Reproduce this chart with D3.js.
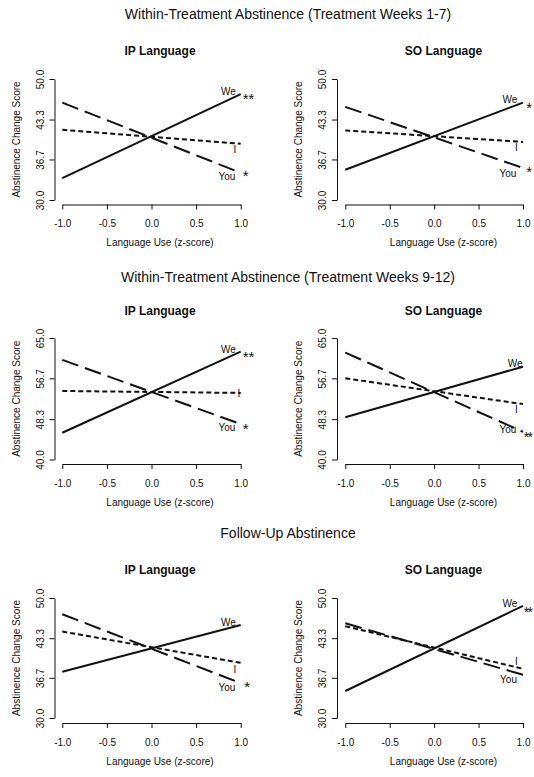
<!DOCTYPE html>
<html>
<head>
<meta charset="utf-8">
<script src="https://cdn.jsdelivr.net/npm/d3@7"></script>
<style>
  html, body { margin: 0; padding: 0; background: #fff; }
  svg { display: block; }
  text { font-family: "Liberation Sans", Arial, sans-serif; fill: #111; }
</style>
</head>
<body>
<script>
// ---------------- DATA ----------------
const xTickValues = [-1, -0.5, 0, 0.5, 1];
const xTickLabels = ["-1.0", "-0.5", "0.0", "0.5", "1.0"];
const yTickValuesA = [30, 36.7, 43.3, 50];
const yTickLabelsA = ["30.0", "36.7", "43.3", "50.0"];
const yTickValuesB = [40, 48.3, 56.7, 65];
const yTickLabelsB = ["40.0", "48.3", "56.7", "65.0"];

const sectionTitles = [
  "Within-Treatment Abstinence (Treatment Weeks 1-7)",
  "Within-Treatment Abstinence (Treatment Weeks 9-12)",
  "Follow-Up Abstinence"
];
const panelTitles = ["IP Language", "SO Language"];
const seriesNames = ["We", "You", "I"];
const xEnds = [-1, 1];
const xAxisTitle = "Language Use (z-score)";
const yAxisTitle = "Abstinence Change Score";

// predicted scores at z = -1 and z = +1
const wk17_IP_We = [33.6, 47.5];
const wk17_IP_You = [46.1, 34.5];
const wk17_IP_I = [41.6, 39.3];
const wk17_SO_We = [35.0, 46.1];
const wk17_SO_You = [45.4, 35.3];
const wk17_SO_I = [41.5, 39.6];

const wk912_IP_We = [45.5, 62.2];
const wk912_IP_You = [60.5, 47.3];
const wk912_IP_I = [54.1, 53.7];
const wk912_SO_We = [48.7, 59.1];
const wk912_SO_You = [62.0, 45.7];
const wk912_SO_I = [56.7, 51.4];

const fu_IP_We = [37.7, 45.5];
const fu_IP_You = [47.3, 35.8];
const fu_IP_I = [44.4, 39.2];
const fu_SO_We = [34.5, 48.7];
const fu_SO_You = [45.8, 37.2];
const fu_SO_I = [45.3, 38.2];

// significance markers (We, You, I)
const wk17_IP_sig = ["**", "*", ""];
const wk17_SO_sig = ["*", "*", ""];
const wk912_IP_sig = ["**", "*", ""];
const wk912_SO_sig = ["", "**", ""];
const fu_IP_sig = ["", "*", ""];
const fu_SO_sig = ["**", "", ""];

// ---------------- LAYOUT ----------------
const W = 534, H = 777;
const rows = [
  { top: 79, bottom: 200, axisY: 204.5, titleY: 19, panelTitleY: 54.5 },
  { top: 338, bottom: 459.5, axisY: 464, titleY: 282, panelTitleY: 314.7 },
  { top: 598, bottom: 718, axisY: 723, titleY: 538, panelTitleY: 574 }
];
const cols = [
  { axisX: 54.5, x0: 62.3, x1: 240.7, textCx: 160 },
  { axisX: 337, x0: 345.3, x1: 523, textCx: 443.5 }
];
const sectionTitleX = 288;

// label anchor positions in data units: [We, WeSig, You, YouSig, I]
const labelPos = [
  [[0.863, 47.36], [1.022, 45.87], [0.846, 33.31], [1.024, 33.22], [0.936, 37.72]],
  [[0.854, 45.98], [1.037, 44.35], [0.831, 33.75], [1.037, 33.72], [0.927, 38.15]],
  [[0.863, 61.85], [1.022, 59.96], [0.846, 45.86], [1.022, 45.20], [0.981, 52.86]],
  [[0.913, 58.97], [1.030, 57.50], [0.831, 45.51], [1.026, 43.70], [0.927, 49.63]],
  [[0.863, 45.38], [1.030, 44.00], [0.846, 34.55], [1.040, 34.33], [0.936, 37.45]],
  [[0.854, 48.55], [1.026, 46.90], [0.837, 35.78], [1.030, 35.00], [0.927, 38.83]]
];

const panels = [
  { row: 0, col: 0, ticks: yTickValuesA, tickLabels: yTickLabelsA, series: [wk17_IP_We, wk17_IP_You, wk17_IP_I], sig: wk17_IP_sig },
  { row: 0, col: 1, ticks: yTickValuesA, tickLabels: yTickLabelsA, series: [wk17_SO_We, wk17_SO_You, wk17_SO_I], sig: wk17_SO_sig },
  { row: 1, col: 0, ticks: yTickValuesB, tickLabels: yTickLabelsB, series: [wk912_IP_We, wk912_IP_You, wk912_IP_I], sig: wk912_IP_sig },
  { row: 1, col: 1, ticks: yTickValuesB, tickLabels: yTickLabelsB, series: [wk912_SO_We, wk912_SO_You, wk912_SO_I], sig: wk912_SO_sig },
  { row: 2, col: 0, ticks: yTickValuesA, tickLabels: yTickLabelsA, series: [fu_IP_We, fu_IP_You, fu_IP_I], sig: fu_IP_sig },
  { row: 2, col: 1, ticks: yTickValuesA, tickLabels: yTickLabelsA, series: [fu_SO_We, fu_SO_You, fu_SO_I], sig: fu_SO_sig }
];

const dashes = { We: null, You: "17,7", I: "5,3" };

// ---------------- DRAW ----------------
const svg = d3.select("body").append("svg").attr("width", W).attr("height", H);

rows.forEach((r, i) => {
  svg.append("text")
    .attr("x", sectionTitleX).attr("y", r.titleY)
    .attr("text-anchor", "middle")
    .style("font-size", "14px")
    .text(sectionTitles[i]);
});

panels.forEach((p, pi) => {
  const r = rows[p.row], c = cols[p.col];
  const x = d3.scaleLinear().domain([-1, 1]).range([c.x0, c.x1]);
  const yDom = [p.ticks[0], p.ticks[p.ticks.length - 1]];
  const y = d3.scaleLinear().domain(yDom).range([r.bottom, r.top]);
  const g = svg.append("g");

  // panel title
  g.append("text")
    .attr("x", c.textCx).attr("y", r.panelTitleY)
    .attr("text-anchor", "middle")
    .style("font-size", "12px").style("font-weight", "bold")
    .text(panelTitles[p.col]);

  // y axis
  const ya = g.append("g").attr("transform", `translate(${c.axisX},0)`)
    .call(d3.axisLeft(y).tickValues(p.ticks)
      .tickFormat((d, i) => p.tickLabels[i]).tickSize(5).tickSizeOuter(0));
  ya.selectAll("path,line").attr("stroke", "#111").attr("stroke-width", 1);
  ya.selectAll("text")
    .attr("transform", "rotate(-90)")
    .attr("x", 0).attr("y", -11).attr("dy", 0)
    .attr("text-anchor", "middle")
    .style("font-size", "10px")
    .style("font-family", "'Liberation Sans', Arial, sans-serif")
    .attr("fill", "#111");

  // x axis
  const xa = g.append("g").attr("transform", `translate(0,${r.axisY})`)
    .call(d3.axisBottom(x).tickValues(xTickValues)
      .tickFormat((d, i) => xTickLabels[i]).tickSize(5).tickSizeOuter(0));
  xa.selectAll("path,line").attr("stroke", "#111").attr("stroke-width", 1);
  xa.selectAll("text")
    .attr("y", 22.7).attr("dy", 0)
    .style("font-size", "10px")
    .style("font-family", "'Liberation Sans', Arial, sans-serif")
    .attr("fill", "#111");

  // axis titles
  g.append("text")
    .attr("x", c.textCx).attr("y", r.axisY + 41.5)
    .attr("text-anchor", "middle")
    .style("font-size", "10px")
    .text(xAxisTitle);
  g.append("text")
    .attr("transform", `translate(${c.axisX - 35},${(r.top + r.bottom) / 2}) rotate(-90)`)
    .attr("text-anchor", "middle")
    .style("font-size", "10px")
    .text(yAxisTitle);

  // lines
  const line = d3.line().x(d => x(d[0])).y(d => y(d[1]));
  p.series.forEach((vals, si) => {
    const pts = xEnds.map((xv, k) => [xv, vals[k]]);
    const name = seriesNames[si];
    g.append("path")
      .attr("d", line(pts))
      .attr("fill", "none")
      .attr("stroke", "#111")
      .attr("stroke-width", 2)
      .attr("stroke-dasharray", dashes[name]);
  });

  // labels
  const lp = labelPos[pi];
  const lbl = [
    { t: "We", pos: lp[0] }, { t: "You", pos: lp[2] }, { t: "I", pos: lp[4] }
  ];
  lbl.forEach(l => {
    g.append("text")
      .attr("x", x(l.pos[0])).attr("y", y(l.pos[1]))
      .attr("text-anchor", "middle")
      .style("font-size", "10px")
      .text(l.t);
  });
  const sigPos = [lp[1], lp[3]];
  [0, 1].forEach(k => {
    if (!p.sig[k]) return;
    const t = g.append("text")
      .attr("x", x(sigPos[k][0])).attr("y", y(sigPos[k][1]))
      .attr("text-anchor", "start")
      .style("font-size", "15px")
      .text(p.sig[k]);
    // keep markers that sit at the right page edge inside the picture
    const len = t.node().getComputedTextLength();
    if (x(sigPos[k][0]) + len > W - 0.5) {
      t.style("font-size", "14px").style("letter-spacing", "-1.8px")
        .attr("x", W - 10.2);
    }
  });
});
</script>
</body>
</html>
